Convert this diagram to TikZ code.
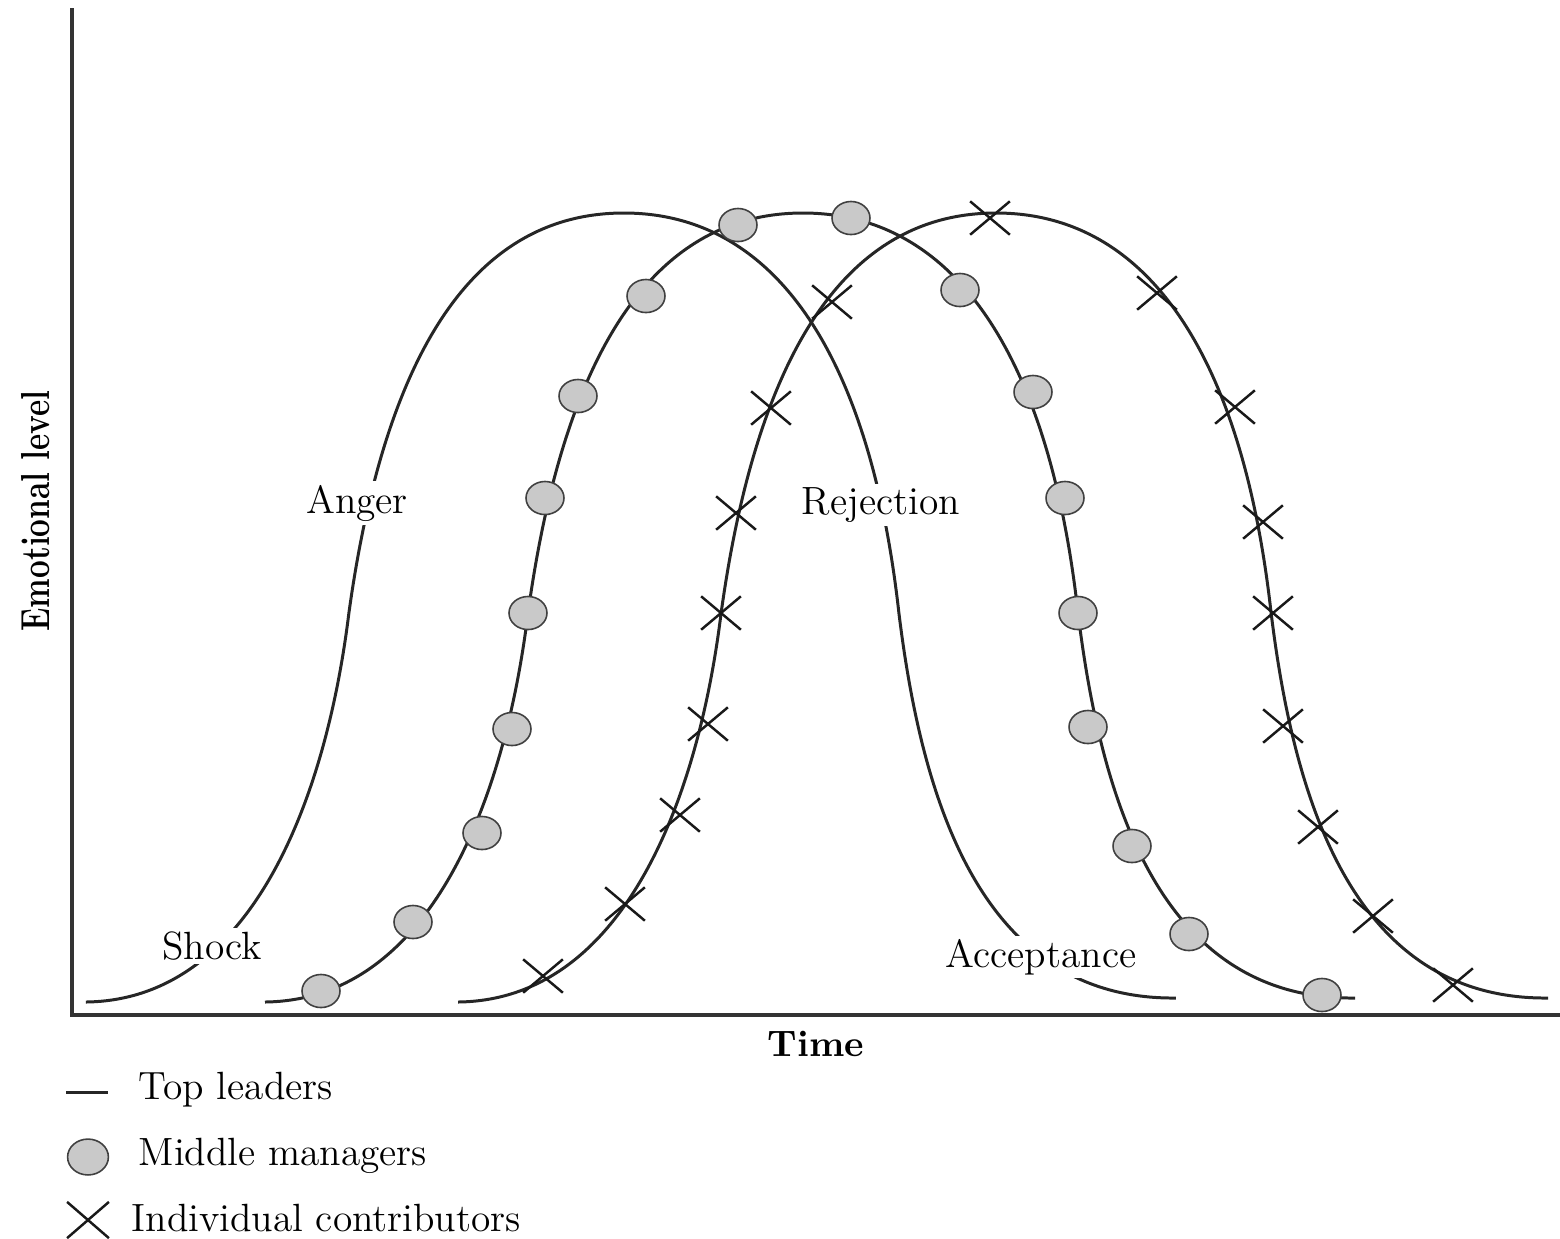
\documentclass[tikz,border=0pt]{standalone}
\usepackage{tikz}
\usetikzlibrary{positioning,shapes.geometric,shapes.misc}

\tikzset{
  curve/.style={line width=0.85pt, black!85},
  axisline/.style={line width=0.9pt, black!80},
  mmdot/.style={ellipse, draw=black!75, fill=black!21, line width=0.45pt,
    minimum width=10.8pt, minimum height=9.4pt, inner sep=0pt},
  icmark/.style={cross out, draw=black!90, line width=0.7pt,
    minimum width=10.6pt, minimum height=8.8pt, inner sep=0pt},
  stage/.style={fill=white, inner sep=1pt, font=\fontsize{11.2}{13}\selectfont},
  legtext/.style={anchor=west, inner sep=0pt, font=\fontsize{11.2}{13}\selectfont},
}

% one emotional curve, in pixel units
\newcommand{\bellcurve}{(265,1002) .. controls (430,1000) and (505,800) .. (528,613)
    .. controls (564,353) and (653,213) .. (803,213)
    .. controls (953,213) and (1049,353) .. (1078,613)
    .. controls (1101,800) and (1160,1000) .. (1355,998)}

\begin{document}
\begin{tikzpicture}[x=0.01cm,y=-0.01cm]
  \useasboundingbox (0,0) rectangle (1560,1238);

  % axes
  \draw[axisline] (72,8) -- (72,1015) -- (1560,1015);
  \node[rotate=90, font=\fontsize{11.5}{13}\selectfont\bfseries] (ylabel) at (36,511)
    {\scalebox{0.78}[1]{Emotional level}};
  \node[font=\fontsize{10.5}{12}\selectfont\bfseries] (xlabel) at (816,1044) {Time};

  % top leaders
  \draw[curve, xshift=-1.79cm] \bellcurve;
  % middle managers
  \draw[curve] \bellcurve;
  % individual contributors
  \draw[curve, xshift=1.93cm] \bellcurve;

  % stages
  \node[stage] (shock) at (212,946) {Shock};
  \node[stage] (anger) at (357,503) {Anger};
  \node[stage] (rejection) at (881,505) {Rejection};
  \node[stage] (acceptance) at (1041,957) {Acceptance};

  % markers
  \foreach \px/\py [count=\i] in {321/991,413/922,482/833,512/729,528/613,545/498,
    578/396,646/296,738/225,851/218,960/290,1033/392,1065/498,1078/613,1088/727,
    1132/846,1189/934,1322/995}
    \node[mmdot] (mm\i) at (\px,\py) {};
  \foreach \px/\py [count=\i] in {543/976,625/904,680/815,708/724,721/613,736/513,
    771/408,832/302,990/218,1157/293,1235/407,1263/522,1273/613,1283/726,1318/827,
    1373/916,1453/985}
    \node[icmark] (ic\i) at (\px,\py) {};

  % legend
  \coordinate (legA) at (66,1092);
  \coordinate (legB) at (108,1092);
  \draw[curve] (legA) -- (legB);
  \node[legtext] (toplab) at (138,1090) {Top leaders};
  \node[mmdot, minimum width=11.6pt, minimum height=10.2pt] (legmm) at (88,1157) {};
  \node[legtext] (mmlab) at (138,1156) {Middle managers};
  \node[icmark, minimum width=11.2pt, minimum height=9.6pt] (legic) at (88,1220) {};
  \node[legtext] (iclab) at (131,1218) {Individual contributors};
\end{tikzpicture}
\end{document}
